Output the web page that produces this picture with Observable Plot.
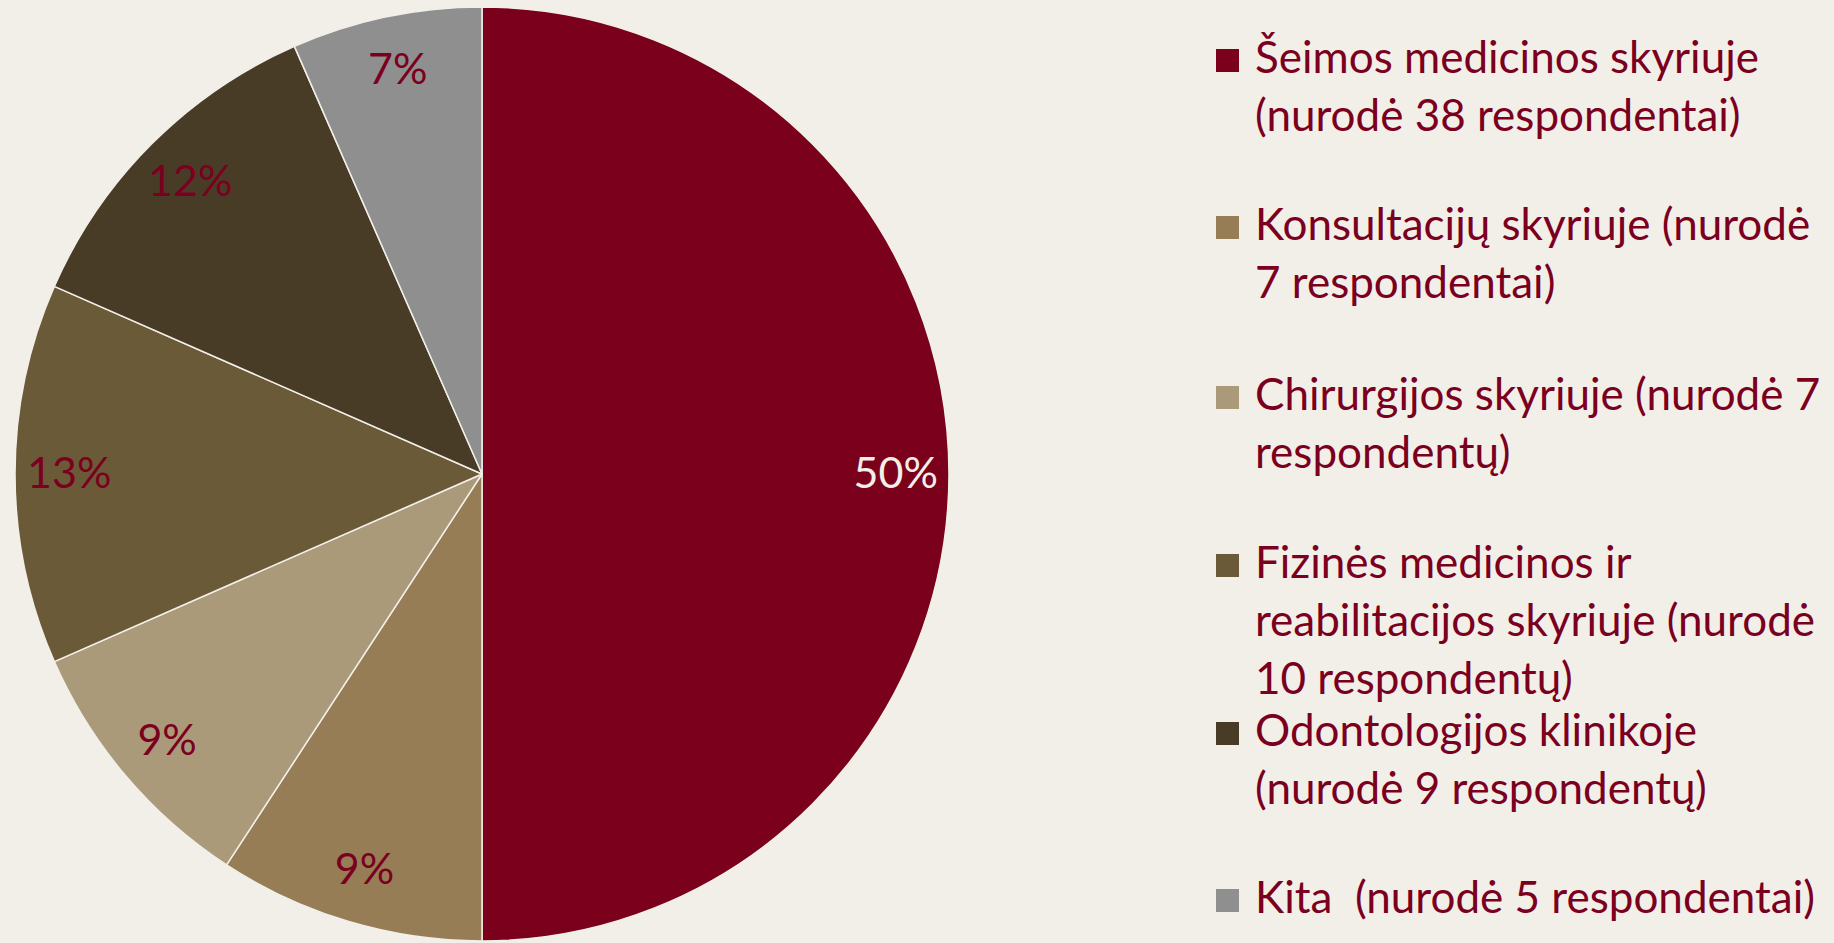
<!DOCTYPE html>
<html>
<head>
<meta charset="utf-8">
<script src="https://cdn.jsdelivr.net/npm/d3@7"></script>
<script src="https://cdn.jsdelivr.net/npm/@observablehq/plot@0.6"></script>
<style>
  html, body { margin: 0; padding: 0; background: #f2efe9; }
  #wrap { position: relative; width: 1834px; height: 943px; background: #f2efe9; overflow: hidden; }
  #chart { position: absolute; left: 0; top: 0; }
  .item { position: absolute; left: 1216px; font-family: Lato, sans-serif; font-size: 44px; line-height: 58px; color: #7b0020; white-space: pre; }
  .swatch { position: absolute; left: 0; width: 23px; height: 23px; }
  .txt { position: absolute; left: 39px; top: 0; }
</style>
</head>
<body>
<div id="wrap"><div id="chart"></div></div>
<script>
const categories = [
  "Šeimos medicinos skyriuje",
  "Konsultacijų skyriuje",
  "Chirurgijos skyriuje",
  "Fizinės medicinos ir reabilitacijos skyriuje",
  "Odontologijos klinikoje",
  "Kita"
];
const respondents = [38, 7, 7, 10, 9, 5];
const percentLabels = ["50%", "9%", "9%", "13%", "12%", "7%"];
const sliceColors = ["#7b001c", "#967d55", "#ab9a7a", "#6b5a38", "#493c27", "#8f8f8f"];
const legendLines = [
  ["Šeimos medicinos skyriuje", "(nurodė 38 respondentai)"],
  ["Konsultacijų skyriuje (nurodė", "7 respondentai)"],
  ["Chirurgijos skyriuje (nurodė 7", "respondentų)"],
  ["Fizinės medicinos ir", "reabilitacijos skyriuje (nurodė", "10 respondentų)"],
  ["Odontologijos klinikoje", "(nurodė 9 respondentų)"],
  ["Kita  (nurodė 5 respondentai)"]
];

const data = categories.map((c, i) => ({category: c, value: respondents[i], label: percentLabels[i]}));
const arcs = d3.pie().sort(null).value(d => d.value)(data);
const labelR = 0.885;
const labelData = arcs.map(a => {
  const mid = (a.startAngle + a.endAngle) / 2;
  return {category: a.data.category, label: a.data.label, x: labelR * Math.sin(mid), y: labelR * Math.cos(mid)};
});

function pieMark(index, scales, values, dimensions) {
  const cx = scales.x(0), cy = scales.y(0), r = scales.x(1) - scales.x(0);
  const arc = d3.arc().innerRadius(0).outerRadius(r);
  const g = d3.create("svg:g").attr("transform", `translate(${cx},${cy})`);
  g.selectAll("path").data(arcs).join("path")
    .attr("d", arc)
    .attr("fill", d => scales.color(d.data.category))
    .attr("stroke", "#f2efe9")
    .attr("stroke-width", 1.5)
    .attr("stroke-linejoin", "round");
  return g.node();
}

const plot = Plot.plot({
  width: 964,
  height: 943,
  marginLeft: 15,
  marginRight: 15,
  marginTop: 7,
  marginBottom: 2,
  x: {domain: [-1, 1], axis: null},
  y: {domain: [-1, 1], axis: null},
  color: {domain: categories, range: sliceColors},
  style: {background: "#f2efe9", fontFamily: "Lato, sans-serif"},
  marks: [
    Plot.dot(data, {x: () => 0, y: () => 0, fill: "category", r: 0}),
    pieMark,
    Plot.text(labelData.filter((d, i) => i === 0), {x: "x", y: "y", text: "label", fill: "#f2efe9", fontSize: 43}),
    Plot.text(labelData.filter((d, i) => i !== 0), {x: "x", y: "y", text: "label", fill: "#7b0020", fontSize: 43})
  ]
});
document.getElementById("chart").appendChild(plot);

const itemTops = [27, 194, 364, 532, 700, 867];
const wrap = document.getElementById("wrap");
legendLines.forEach((lines, i) => {
  const item = document.createElement("div");
  item.className = "item";
  item.style.top = itemTops[i] + "px";
  const sw = document.createElement("div");
  sw.className = "swatch";
  sw.style.top = "22px";
  sw.style.background = sliceColors[i];
  const t = document.createElement("div");
  t.className = "txt";
  t.textContent = lines.join("\n");
  item.appendChild(sw);
  item.appendChild(t);
  wrap.appendChild(item);
});
</script>
</body>
</html>
